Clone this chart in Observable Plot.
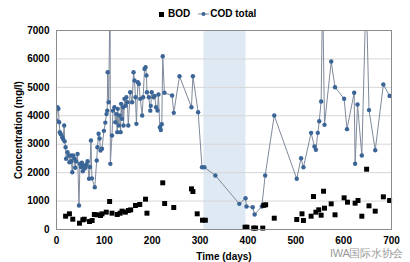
<!DOCTYPE html>
<html><head><meta charset="utf-8">
<script src="https://cdn.jsdelivr.net/npm/d3@7"></script>
<script src="https://cdn.jsdelivr.net/npm/@observablehq/plot@0.6"></script>
<style>
body{margin:0;background:#fff;font-family:"Liberation Sans",Arial,sans-serif;}
#wrap{position:relative;width:410px;height:262px;overflow:hidden;}
#legend{position:absolute;top:8px;left:159px;display:flex;align-items:center;font-size:10px;font-weight:bold;line-height:12px;color:#000;}
#legend .sq{display:inline-block;width:5px;height:5px;background:#000;margin-right:4px;}
#legend svg{margin:0 1px 0 8px;}
#wm{position:absolute;left:330px;top:247px;font-size:11px;line-height:12px;color:#9a9a9a;text-shadow:0 0 2px #fff,0 0 2px #fff;letter-spacing:-0.3px;}
</style></head>
<body><div id="wrap">
<div id="legend"><span class="sq"></span><span>BOD</span><svg width="11" height="8"><line x1="0" y1="4" x2="11" y2="4" stroke="#7f8a9c" stroke-width="1"/><circle cx="5.5" cy="4" r="2" fill="#3a6596"/></svg><span>COD total</span></div>
<div id="wm">IWA国际水协会</div>
</div>
<script>
const xTicks = [0,100,200,300,400,500,600,700];
const yTicks = [0,1000,2000,3000,4000,5000,6000,7000];
const shadeStart = 308, shadeEnd = 396;

const codDays = [0,2,4,5.5,7,9,12,14,16,17,19,20,23,26,27,30,31,33,35,37,39,41,44,47,49,51,53,55,57,59,61,63,65,68,70,72,74,80,84,85.5,88,90,92,95,99,102,104.5,106,107,109,112,112.5,116,118,121,123,125,127,128,130,132,134,135,137,139,140,142,144,146,148,150,154,158,161,163,165,167,170,172,175,179,181,184,186,188,189,193,196,197,199,203,205,208,211,213,216,218,220,222,225.5,241.5,245,257,282,285,296,304,309,332,382,395,397,410,414,429,436,455,502,511,516,532,539,542,546,549,553,556,560,574,582,601,607,622,624,629,638,647,653,666,683,696];
const codValues = [3834,4300,4245,3775,3423,3350,3247,3180,3658,3100,2895,2487,2720,2600,2367,2603,2400,2016,2603,2500,2170,2400,2660,844,2310,2200,2350,2050,2250,2150,2200,2300,2400,1783,2200,3130,1800,1488,2427,2895,3366,3200,2780,2838,3470,3760,4060,4180,5534,4478,8500,2310,3306,4180,4300,3775,4060,3424,4244,3658,4010,3424,4420,3893,4300,3658,4595,4350,4650,4480,3658,4830,4478,5534,5240,4650,3716,5180,5120,4595,4010,4650,5650,5710,5420,4830,4650,4180,4350,4830,4650,4700,4300,4185,4750,3600,3500,3700,6096,4808,4713,4103,5392,4300,5392,4126,2191,2191,1900,903,1100,810,785,528,810,1900,4010,1783,2508,2191,3400,2920,2803,3400,3810,4502,8500,3682,5910,5005,4597,3530,4808,2311,4397,2603,8500,4200,2790,5100,4700];

const bodDays = [19,27,34,48,55,58,69,74.5,79,85,92,95,104,111,116,127,133,137,144,150,155,165,174,186,189,222,226,245,282,285,294,305,311,394,398,412,416,431,433,437,455,502,513,516,532,537,542,548,553,558,560,574,582,601,608,624,630,638,648,653,666,683,696];
const bodValues = [468,552,362,222,341,362,281,317,528,517,492,550,610,985,574,528,574,645,610,668,690,844,880,1067,574,1642,914,774,1430,1336,552,327,327,80,80,50,50,50,850,870,398,352,552,317,468,1160,610,693,503,1347,750,903,517,1114,961,926,1020,468,2121,833,645,1149,1020];

const cod = codDays.map((d,i)=>({day:d, value:codValues[i]}));
const bod = bodDays.map((d,i)=>({day:d, value:bodValues[i]}));

const chart = Plot.plot({
  width:410, height:262,
  marginLeft:56, marginRight:19, marginTop:30, marginBottom:33,
  style:{fontFamily:"'Liberation Sans',Arial,sans-serif", fontSize:"10px", fontWeight:"bold", color:"#000", background:"transparent"},
  x:{domain:[0,700], ticks:xTicks, tickSize:0, tickPadding:7, tickFormat:d3.format("d"), label:"Time (days)", labelArrow:"none", labelAnchor:"center", labelOffset:30},
  y:{domain:[0,7000], ticks:yTicks, tickSize:0, tickPadding:7, tickFormat:d3.format("d"), label:"Concentration (mg/l)", labelArrow:"none", labelAnchor:"center", labelOffset:42},
  marks:[
    Plot.rect([{a:shadeStart,b:shadeEnd}], {x1:"a", x2:"b", y1:0, y2:7000, fill:"#dfe9f4"}),
    Plot.ruleY(yTicks, {stroke:"#d6d6d6", strokeWidth:1}),
    Plot.line(cod, {x:"day", y:"value", stroke:"#7f8a9c", strokeWidth:1, clip:true}),
    Plot.dot(cod, {x:"day", y:"value", r:2.2, fill:"#3a6596", clip:true}),
    Plot.dot(bod, {x:"day", y:"value", symbol:"square", r:2.8, fill:"#000"}),
    Plot.frame({stroke:"#8c8c8c"})
  ]
});
document.getElementById("wrap").prepend(chart);
</script>
</body></html>
